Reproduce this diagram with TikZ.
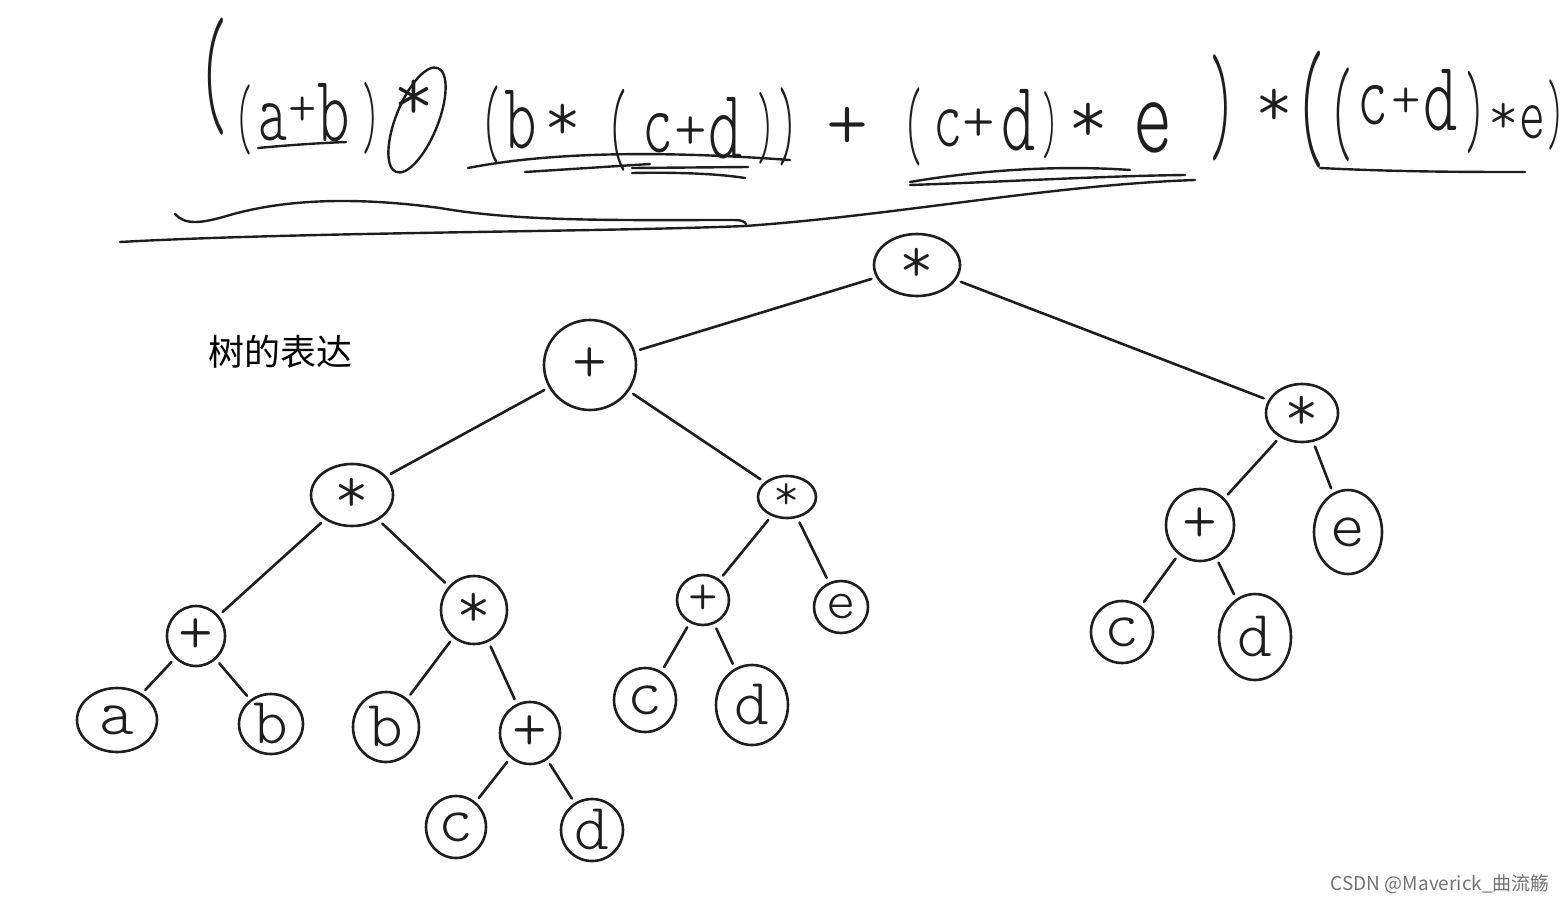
\documentclass[tikz,border=0pt]{standalone}
\usepackage{fontspec}
\newfontfamily\cjk{Noto Sans CJK SC}
\newfontfamily\hwf{Latin Modern Mono Light}
\newfontfamily\hwl{Latin Modern Mono Light}[FakeStretch=0.65]
\newfontfamily\hwp{Latin Modern Mono Light}[FakeStretch=0.4]
\usetikzlibrary{shapes.geometric}
\definecolor{ink}{HTML}{1E1E1E}
% one handwritten glyph: centre x, centre y (downwards), size, font, character
\newcommand\GL[5]{%
  \setbox0=\hbox{#4\fontsize{#3}{#3}\selectfont #5}%
  \rlap{\dimen2=\dimexpr -#2pt-(\ht0-\dp0)/2\relax
    \kern\dimexpr #1pt-\wd0/2\relax\raise\dimen2\box0}}
\begin{document}
\begin{tikzpicture}[x=1pt,y=-1pt,
  tn/.style={ellipse,draw=ink,line width=2.6pt,inner sep=0pt,text=ink,font=\hwf\fontsize{66}{66}\selectfont},
  ed/.style={draw=ink,line width=2.6pt,line cap=round,shorten <=5pt,shorten >=5pt},
  ul/.style={draw=ink,line width=2.4pt,line cap=round}]
\useasboundingbox (0,0) rectangle (1565,902);
\fill[white] (0,0) rectangle (1565,902);
% tree nodes
\node[tn,minimum width=86pt,minimum height=62pt] (r) at (917,265) {*};
\node[tn,minimum width=92pt,minimum height=90pt] (p1) at (590,365) {+};
\node[tn,minimum width=82pt,minimum height=62pt] (m1) at (352,495) {*};
\node[tn,minimum width=58pt,minimum height=42pt,font=\hwf\fontsize{50}{50}\selectfont] (m2) at (787,497) {*};
\node[tn,minimum width=72pt,minimum height=58pt] (m3) at (1302,413) {*};
\node[tn,minimum width=58pt,minimum height=60pt] (p2) at (196,636) {+};
\node[tn,minimum width=66pt,minimum height=68pt] (m4) at (474,610) {*};
\node[tn,minimum width=52pt,minimum height=50pt,font=\hwf\fontsize{56}{56}\selectfont] (p3) at (703,600) {+};
\node[tn,minimum width=54pt,minimum height=52pt,font=\hwf\fontsize{56}{56}\selectfont] (e1) at (841,607) {e};
\node[tn,minimum width=68pt,minimum height=72pt] (p4) at (1200,525) {+};
\node[tn,minimum width=68pt,minimum height=84pt] (e2) at (1348,532) {e};
\node[tn,minimum width=80pt,minimum height=64pt] (a) at (117,720) {a};
\node[tn,minimum width=64pt,minimum height=60pt] (b1) at (271,724) {b};
\node[tn,minimum width=66pt,minimum height=70pt] (b2) at (386,727) {b};
\node[tn,minimum width=60pt,minimum height=62pt] (p5) at (530,733) {+};
\node[tn,minimum width=62pt,minimum height=64pt] (c1) at (645,700) {c};
\node[tn,minimum width=72pt,minimum height=80pt] (d1) at (752,705) {d};
\node[tn,minimum width=62pt,minimum height=62pt] (c2) at (1122,632) {c};
\node[tn,minimum width=72pt,minimum height=86pt] (d2) at (1255,637) {d};
\node[tn,minimum width=60pt,minimum height=62pt] (c3) at (456,827) {c};
\node[tn,minimum width=62pt,minimum height=62pt] (d3) at (592,830) {d};
% edges
\draw[ed] (r) -- (p1);
\draw[ed] (r) -- (m3);
\draw[ed] (p1) -- (m1);
\draw[ed] (p1) -- (m2);
\draw[ed] (m1) -- (p2);
\draw[ed] (m1) -- (m4);
\draw[ed] (p2) -- (a);
\draw[ed] (p2) -- (b1);
\draw[ed] (m4) -- (b2);
\draw[ed] (m4) -- (p5);
\draw[ed] (p5) -- (c3);
\draw[ed] (p5) -- (d3);
\draw[ed] (m2) -- (p3);
\draw[ed] (m2) -- (e1);
\draw[ed] (p3) -- (c1);
\draw[ed] (p3) -- (d1);
\draw[ed] (m3) -- (p4);
\draw[ed] (m3) -- (e2);
\draw[ed] (p4) -- (c2);
\draw[ed] (p4) -- (d2);
% handwritten expression, one text
\node[inner sep=0pt,anchor=base west,text=ink] (expr) at (0,0) {%
  \GL{213}{77}{150}{\hwp}{(}\GL{243}{120}{90}{\hwp}{(}\GL{272}{122}{85}{\hwl}{a}%
  \GL{302}{111}{54}{\hwf}{+}\GL{333}{113}{95}{\hwl}{b}\GL{370}{118}{92}{\hwp}{)}%
  \GL{413}{100}{78}{\hwf}{*}%
  \GL{490}{125}{100}{\hwp}{(}\GL{520}{120}{95}{\hwl}{b}\GL{562}{122}{70}{\hwf}{*}%
  \GL{617}{130}{105}{\hwp}{(}\GL{657}{133}{90}{\hwl}{c}\GL{690}{133}{62}{\hwf}{+}%
  \GL{725}{128}{100}{\hwl}{d}\GL{765}{128}{92}{\hwp}{)}\GL{787}{127}{100}{\hwp}{)}%
  \GL{847}{128}{80}{\hwf}{+}%
  \GL{912}{127}{100}{\hwp}{(}\GL{947}{128}{85}{\hwl}{c}\GL{978}{125}{62}{\hwf}{+}%
  \GL{1018}{120}{100}{\hwl}{d}\GL{1050}{125}{86}{\hwp}{)}\GL{1088}{123}{76}{\hwf}{*}%
  \GL{1152}{128}{115}{\hwl}{e}%
  \GL{1222}{108}{136}{\hwp}{)}%
  \GL{1274}{108}{72}{\hwf}{*}%
  \GL{1310}{110}{150}{\hwp}{(}\GL{1340}{115}{120}{\hwp}{(}\GL{1372}{105}{90}{\hwl}{c}%
  \GL{1405}{103}{56}{\hwf}{+}\GL{1440}{100}{100}{\hwl}{d}\GL{1475}{112}{105}{\hwp}{)}%
  \GL{1503}{118}{58}{\hwf}{*}\GL{1532}{122}{76}{\hwl}{e}\GL{1555}{115}{90}{\hwp}{)}};
\draw[ul,rotate around={-22:(417,120)}] (417,120) ellipse (21pt and 56pt);
% underlines
\draw[ul] (258,148) .. controls (290,145) and (320,143) .. (346,142);
\draw[ul] (468,168) .. controls (560,150) and (680,152) .. (790,160);
\draw[ul] (525,172) -- (650,164);
\draw[ul] (632,168) -- (748,167);
\draw[ul] (632,173) .. controls (680,172) and (720,174) .. (745,178);
\draw[ul] (910,182) .. controls (980,170) and (1060,165) .. (1130,170);
\draw[ul] (910,185) .. controls (1000,182) and (1100,176) .. (1185,175);
\draw[ul] (1320,168) .. controls (1400,172) and (1470,172) .. (1525,172);
\draw[ul] (175,214) .. controls (185,225) and (200,224) .. (230,215)
  .. controls (300,195) and (380,200) .. (440,208)
  .. controls (520,222) and (620,220) .. (735,220)
  .. controls (742,220) and (745,222) .. (746,224);
\draw[ul] (120,242) .. controls (300,232) and (600,232) .. (745,226)
  .. controls (900,215) and (1050,185) .. (1195,180);
% texts
\node[text=black,inner sep=0pt,font=\cjk\fontsize{36}{36}\selectfont] (t) at (280,352) {树的表达};
\node[text=black!55,inner sep=0pt,anchor=east,font=\cjk\fontsize{19}{19}\selectfont] (w) at (1550,884) {CSDN @Maverick\_曲流觞};
\end{tikzpicture}
\end{document}
